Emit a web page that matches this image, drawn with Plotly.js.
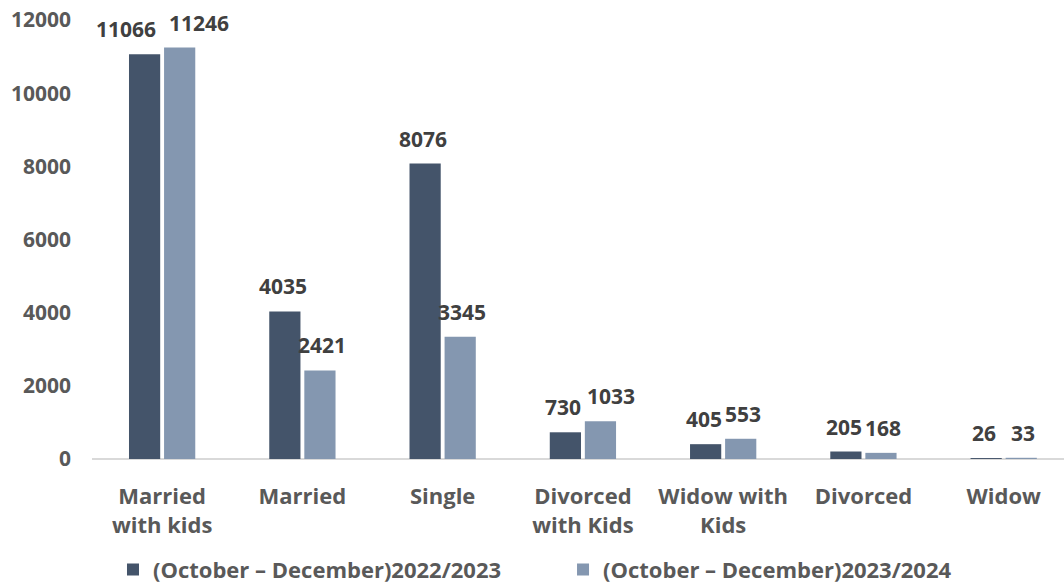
<!DOCTYPE html>
<html><head><meta charset="utf-8">
<script src="https://cdn.plot.ly/plotly-3.0.1.min.js"></script>
<style>html,body{margin:0;padding:0;background:#fff}#c{width:1064px;height:586px}</style>
</head><body><div id="c"></div>
<script>
var categories = ["Married<br>with kids","Married","Single","Divorced<br>with Kids","Widow with<br>Kids","Divorced","Widow"];
var series1Name = "(October – December)2022/2023";
var series2Name = "(October – December)2023/2024";
var series1 = [11066, 4035, 8076, 730, 405, 205, 26];
var series2 = [11246, 2421, 3345, 1033, 553, 168, 33];
var yTicks = [0, 2000, 4000, 6000, 8000, 10000, 12000];

var fontFam = "Open Sans, Lato, sans-serif";
var colors = ["#44546A", "#8497B0"];
var traces = [
  {type:"bar", x: categories, y: series1, name: series1Name, marker:{color:colors[0]}, legend:"legend"},
  {type:"bar", x: categories, y: series2, name: series2Name, marker:{color:colors[1]}, legend:"legend2"}
];
// label nudges (styling only, like moved labels in the original)
function nudge(si, i){
  if (i === 0) return si === 0 ? -17 : 17;
  if (i === 3 && si === 1) return 9;
  return 0;
}
var annotations = [];
[series1, series2].forEach(function(s, si){
  s.forEach(function(v, i){
    annotations.push({x: categories[i], y: v, xref:"x", yref:"y", text: String(v), showarrow:false,
      xshift: (si === 0 ? -19.5 : 19.5) + nudge(si, i), yshift: 25, yanchor:"middle", xanchor:"center",
      font:{family: fontFam, size: 21, color:"#404040", weight:700}});
  });
});
var legFont = {family: fontFam, size:22, color:"#595959", weight:700};
var layout = {
  width:1064, height:586,
  margin:{l:92, r:0, t:20, b:127, autoexpand:false},
  paper_bgcolor:"#fff", plot_bgcolor:"#fff",
  barmode:"group", bargap:0.5, bargroupgap:0.11,
  font:{family: fontFam, color:"#595959"},
  annotations: annotations,
  xaxis:{type:"category", range:[-0.5, 6.43], showgrid:false, showline:false, ticks:"", ticklabelstandoff: 22,
    automargin:false, tickfont:{family: fontFam, size:22, color:"#595959", weight:700}},
  yaxis:{range:[0,12000], tickvals: yTicks, ticktext: yTicks.map(String), showgrid:false, showline:false,
    zeroline:true, zerolinecolor:"#d9d9d9", zerolinewidth:2, ticks:"", ticklen:0, ticklabelstandoff: 20,
    automargin:false, tickfont:{family: fontFam, size:21, color:"#595959", weight:700}},
  showlegend:true,
  legend:{orientation:"h", x:0.0216, xanchor:"left", y:-0.252, yanchor:"middle", font:legFont, itemwidth:30},
  legend2:{orientation:"h", x:0.4846, xanchor:"left", y:-0.252, yanchor:"middle", font:legFont, itemwidth:30}
};
Plotly.newPlot("c", traces, layout, {displayModeBar:false, staticPlot:true});
</script></body></html>
